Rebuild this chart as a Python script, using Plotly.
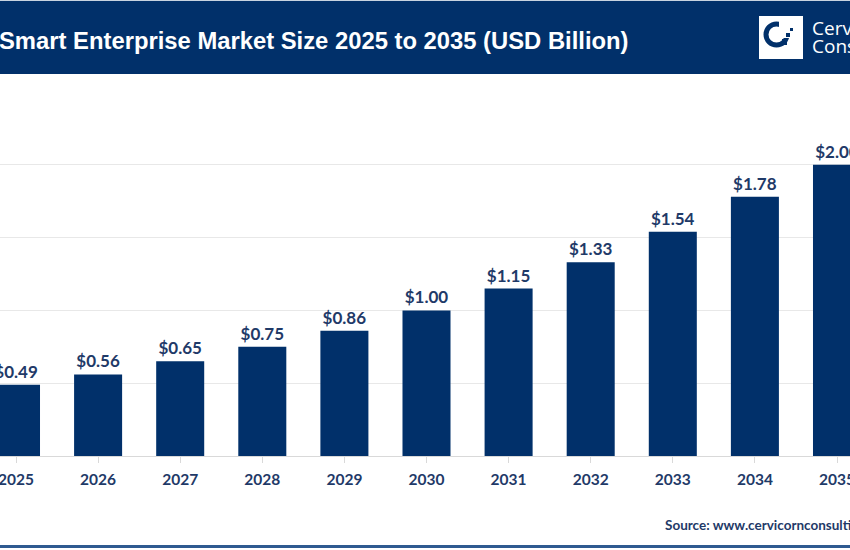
import plotly.graph_objects as go

years = ["2025", "2026", "2027", "2028", "2029", "2030", "2031", "2032", "2033", "2034", "2035"]
values = [0.49, 0.56, 0.65, 0.75, 0.86, 1.00, 1.15, 1.33, 1.54, 1.78, 2.00]
labels = ["$0.49", "$0.56", "$0.65", "$0.75", "$0.86", "$1.00", "$1.15", "$1.33", "$1.54", "$1.78", "$2.00"]

title_text = "Smart Enterprise Market Size 2025 to 2035 (USD Billion)"
source_text = "Source: www.cervicornconsulting.com"
logo_lines = ["Cervicorn", "Consulting"]

NAVY = "#01306a"
TXT = "#1f3a68"
W, H = 850, 550
TOP, BOT = 92, 456

def py(p):
    # pixel y -> paper y
    return (BOT - p) / (BOT - TOP)

def px(p):
    return p / W

fig = go.Figure()
fig.add_trace(go.Bar(
    x=list(range(len(years))), y=values,
    text=labels, textposition="outside",
    textfont=dict(family="Lato", size=17, color=TXT, weight="bold"),
    marker=dict(color=NAVY, line=dict(width=0)),
    width=0.585, cliponaxis=False,
))

shapes = [
    dict(type="rect", xref="paper", yref="paper", x0=-0.01, x1=1.01, y0=py(74), y1=py(1),
         fillcolor=NAVY, line=dict(width=0), layer="above"),
    dict(type="rect", xref="paper", yref="paper", x0=-0.01, x1=1.01, y0=py(1), y1=py(-1),
         fillcolor="#c8d3e0", line=dict(width=0), layer="above"),
    dict(type="rect", xref="paper", yref="paper", x0=-0.01, x1=1.01, y0=py(548), y1=py(545),
         fillcolor="#2f5a90", line=dict(width=0), layer="above"),
    # logo box
    dict(type="rect", xref="paper", yref="paper", x0=px(759), x1=px(803), y0=py(59), y1=py(16),
         fillcolor="white", line=dict(width=0), layer="above"),
    dict(type="circle", xref="paper", yref="paper", x0=px(766), x1=px(787), y0=py(45), y1=py(24),
         fillcolor="rgba(0,0,0,0)", line=dict(color=NAVY, width=5), layer="above"),
    dict(type="rect", xref="paper", yref="paper", x0=px(779), x1=px(792), y0=py(38), y1=py(20),
         fillcolor="white", line=dict(width=0), layer="above"),
    dict(type="rect", xref="paper", yref="paper", x0=px(782), x1=px(787), y0=py(45), y1=py(39),
         fillcolor=NAVY, line=dict(width=0), layer="above"),
    dict(type="rect", xref="paper", yref="paper", x0=px(786), x1=px(790), y0=py(37), y1=py(33),
         fillcolor=NAVY, line=dict(width=0), layer="above"),
    dict(type="rect", xref="paper", yref="paper", x0=px(790), x1=px(793), y0=py(31), y1=py(28),
         fillcolor=NAVY, line=dict(width=0), layer="above"),
]

annotations = [
    dict(text=title_text, xref="paper", yref="paper", x=px(-3), y=py(40), xanchor="left", yanchor="middle",
         showarrow=False, font=dict(family="Liberation Sans", size=23.8, color="white", weight="bold")),
    dict(text=logo_lines[0], xref="paper", yref="paper", x=px(810), y=py(28), xanchor="left",
         yanchor="middle", showarrow=False, font=dict(family="Open Sans", size=19, color="white")),
    dict(text=logo_lines[1], xref="paper", yref="paper", x=px(810), y=py(46), xanchor="left",
         yanchor="middle", showarrow=False, font=dict(family="Open Sans", size=19, color="white")),
    dict(text=source_text, xref="paper", yref="paper", x=px(663), y=py(525), xanchor="left", yanchor="middle",
         showarrow=False, font=dict(family="Lato", size=13.5, color=TXT, weight="bold")),
]

step = 82.1
x0 = -16 / step
x1 = (W - 16) / step

fig.update_layout(
    width=W, height=H,
    margin=dict(l=0, r=0, t=TOP, b=H - BOT, pad=0, autoexpand=False),
    paper_bgcolor="white", plot_bgcolor="white",
    showlegend=False,
    shapes=shapes, annotations=annotations,
    xaxis=dict(range=[x0, x1], tickmode="array", tickvals=list(range(len(years))), ticktext=years,
               tickson="boundaries", ticks="outside", ticklen=6, tickcolor="#d9d9d9",
               showline=True, linecolor="#d9d9d9", linewidth=1, showgrid=False, zeroline=False,
               ticklabeloverflow="allow", automargin=False,
               tickfont=dict(family="Lato", size=15.5, color=TXT, weight="bold"), ticklabelstandoff=3),
    yaxis=dict(range=[0, 2.5], dtick=0.5, showgrid=True, gridcolor="#e8e8e8", gridwidth=1,
               showticklabels=False, zeroline=False, showline=False, automargin=False),
)

fig.write_html("out.html")
